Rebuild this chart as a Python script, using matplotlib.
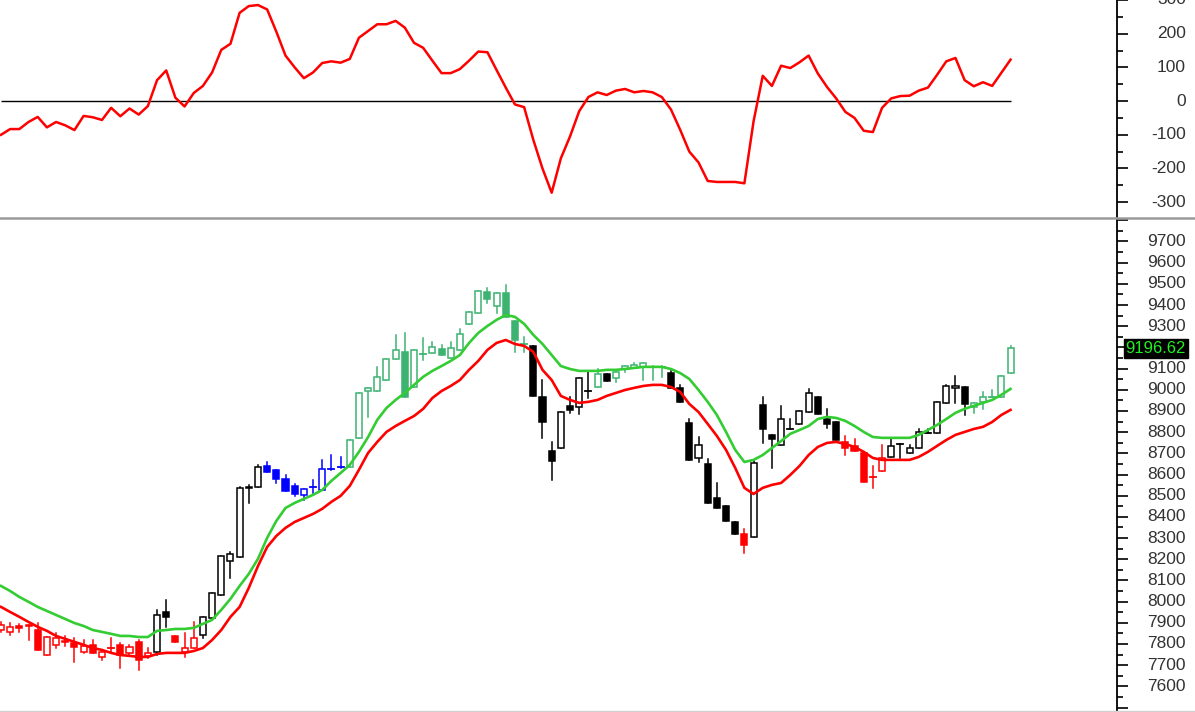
import matplotlib
matplotlib.use("Agg")
import numpy as np
import matplotlib.pyplot as plt
from matplotlib.patches import Rectangle
from matplotlib.lines import Line2D

plt.rcParams["font.family"] = ["Liberation Sans", "DejaVu Sans"]

# ── data ──────────────────────────────────────────────────────────────────────

osc = [-100, -83, -83, -62, -47, -78, -62, -72, -86, -44,
       -48, -56, -20, -45, -22, -40, -15, 62, 91, 10,
       -16, 24, 45, 85, 152, 170, 262, 282, 285, 272,
       206, 135, 100, 68, 85, 113, 118, 114, 125, 188,
       208, 228, 228, 238, 218, 173, 158, 120, 83, 83,
       95, 120, 147, 145, 92, 40, -10, -18, -115, -200,
       -272, -170, -105, -30, 12, 26, 18, 31, 36, 26,
       30, 26, 12, -25, -85, -150, -182, -237, -240, -240,
       -240, -244, -60, 75, 45, 105, 98, 115, 135, 82,
       42, 8, -32, -50, -88, -92, -20, 8, 15, 16,
       31, 40, 78, 118, 128, 62, 44, 56, 45, 84, 123]

ma_upper = [8074, 8050, 8022, 7999, 7975, 7956, 7937, 7918, 7899, 7885,
            7866, 7857, 7848, 7838, 7838, 7833, 7833, 7862, 7866, 7871,
            7871, 7876, 7895, 7914, 7961, 8013, 8074, 8131, 8202, 8301,
            8381, 8442, 8466, 8485, 8504, 8527, 8570, 8607, 8645, 8707,
            8777, 8858, 8914, 8952, 8985, 9023, 9061, 9089, 9112, 9136,
            9164, 9221, 9268, 9301, 9330, 9353, 9344, 9311, 9259, 9216,
            9164, 9112, 9098, 9089, 9089, 9089, 9094, 9094, 9098, 9103,
            9108, 9108, 9108, 9098, 9079, 9051, 8999, 8943, 8881, 8801,
            8716, 8659, 8669, 8692, 8725, 8758, 8792, 8810, 8829, 8862,
            8872, 8867, 8853, 8829, 8801, 8777, 8773, 8773, 8773, 8773,
            8787, 8810, 8834, 8862, 8891, 8910, 8924, 8938, 8952, 8976, 9004]

ma_lower = [7975, 7951, 7928, 7904, 7881, 7862, 7838, 7824, 7810, 7796,
            7781, 7772, 7758, 7748, 7744, 7739, 7739, 7753, 7758, 7758,
            7758, 7767, 7781, 7819, 7866, 7928, 7975, 8065, 8168, 8258,
            8310, 8348, 8376, 8395, 8414, 8438, 8471, 8499, 8546, 8622,
            8702, 8754, 8801, 8829, 8853, 8876, 8910, 8961, 8994, 9018,
            9046, 9094, 9136, 9188, 9221, 9235, 9216, 9207, 9179, 9094,
            9046, 8971, 8952, 8938, 8943, 8952, 8971, 8985, 8999, 9009,
            9018, 9023, 9023, 9013, 8990, 8933, 8895, 8839, 8782, 8716,
            8631, 8537, 8508, 8537, 8551, 8560, 8598, 8640, 8692, 8730,
            8749, 8754, 8744, 8730, 8707, 8678, 8669, 8669, 8669, 8669,
            8683, 8707, 8735, 8763, 8787, 8801, 8815, 8825, 8848, 8881, 8905]

opens = [7866, 7857, 7885, 7890, 7866, 7748, 7796, 7815, 7805, 7763,
         7796, 7739, 7781, 7796, 7758, 7810, 7744, 7763, 7951, 7838,
         7763, 7781, 7843, 7923, 8032, 8192, 8211, 8536, 8541, 8640,
         8622, 8579, 8546, 8504, 8539, 8527, 8624, 8633, 8636, 8773,
         8994, 8994, 9046, 9146, 9179, 9013, 9166, 9174, 9193, 9150,
         9188, 9311, 9363, 9462, 9396, 9457, 9325, 9217, 9207, 8966,
         8711, 8725, 8924, 8919, 8993, 9013, 9075, 9056, 9098, 9103,
         9108, 9107, 9107, 9079, 9009, 8843, 8678, 8650, 8490, 8452,
         8376, 8320, 8305, 8928, 8787, 8740, 8814, 8839, 8895, 8966,
         8862, 8848, 8754, 8735, 8702, 8589, 8617, 8683, 8744, 8702,
         8725, 8795, 8796, 8938, 9009, 9013, 8919, 8943, 8965, 8966, 9079]

highs = [7904, 7899, 7895, 7890, 7899, 7833, 7852, 7838, 7829, 7819,
         7819, 7772, 7829, 7805, 7796, 7819, 7781, 7961, 8008, 7838,
         7852, 7904, 7928, 8041, 8216, 8235, 8540, 8551, 8645, 8659,
         8622, 8598, 8556, 8532, 8574, 8669, 8692, 8683, 8763, 8985,
         9009, 9108, 9146, 9259, 9268, 9188, 9245, 9226, 9212, 9226,
         9287, 9367, 9466, 9481, 9457, 9495, 9325, 9249, 9207, 9046,
         8754, 8895, 8966, 9056, 9084, 9098, 9075, 9084, 9112, 9127,
         9127, 9113, 9110, 9089, 9023, 8862, 8777, 8674, 8560, 8452,
         8376, 8343, 8669, 8966, 8787, 8924, 8862, 8900, 9004, 8966,
         8910, 8848, 8782, 8768, 8702, 8641, 8740, 8773, 8746, 8740,
         8815, 8815, 8943, 9023, 9065, 9013, 8938, 8990, 8999, 9065, 9206]

lows = [7857, 7843, 7857, 7819, 7770, 7748, 7781, 7791, 7715, 7758,
        7758, 7725, 7763, 7687, 7748, 7678, 7734, 7748, 7881, 7810,
        7739, 7781, 7829, 7923, 8032, 8112, 8211, 8466, 8541, 8612,
        8560, 8522, 8499, 8480, 8513, 8527, 8622, 8631, 8636, 8773,
        8872, 8994, 9046, 9146, 8966, 9013, 9141, 9174, 9164, 9150,
        9188, 9311, 9363, 9410, 9363, 9344, 9179, 9179, 8971, 8773,
        8574, 8725, 8891, 8886, 8961, 9013, 9042, 9037, 9084, 9103,
        9046, 9046, 9061, 9009, 8943, 8669, 8659, 8466, 8442, 8381,
        8320, 8230, 8305, 8749, 8631, 8740, 8814, 8839, 8895, 8886,
        8820, 8763, 8692, 8711, 8565, 8537, 8617, 8683, 8678, 8702,
        8725, 8795, 8796, 8938, 8938, 8881, 8891, 8910, 8965, 8966, 9079]

closes = [7890, 7881, 7876, 7884, 7772, 7833, 7829, 7810, 7786, 7791,
          7758, 7763, 7783, 7748, 7786, 7725, 7758, 7937, 7928, 7810,
          7781, 7829, 7928, 8041, 8216, 8225, 8537, 8541, 8636, 8612,
          8579, 8522, 8508, 8532, 8541, 8626, 8626, 8636, 8763, 8985,
          9009, 9061, 9146, 9188, 8966, 9188, 9168, 9202, 9164, 9197,
          9264, 9367, 9466, 9429, 9457, 9344, 9235, 9216, 8971, 8848,
          8664, 8895, 8905, 9056, 8995, 9075, 9042, 9084, 9112, 9117,
          9127, 9108, 9108, 9009, 8943, 8669, 8740, 8466, 8442, 8381,
          8320, 8268, 8655, 8815, 8768, 8862, 8815, 8900, 8985, 8886,
          8839, 8763, 8725, 8711, 8565, 8587, 8678, 8735, 8746, 8725,
          8801, 8796, 8943, 9018, 9018, 8933, 8938, 8966, 8966, 9065, 9196.62]

# candle colour group per bar: r = below band, k = neutral, b = pullback, g = above band
groups = ("rrrrrrrrrr" "rrrrrrrkkr"      # 0-19
          "rrkkkkkkkb" "bbbbbbbbgg"      # 20-39
          "gggggggggg" "ggggggggkk"      # 40-59
          "kkkkkgkggg" "gggkkkkkkk"      # 60-79
          "krkkkkkkkk" "kkrrrrrkkk"      # 80-99
          "kkkkkkggggg")                 # 100-110

osc_ticks = [-300, -200, -100, 0, 100, 200, 300]
price_ticks = list(range(7600, 9800, 100))
last_close = closes[-1]

# ── styling ───────────────────────────────────────────────────────────────────

W, H = 1195, 712
AX_W = 1117
CANDLE_COL = {"r": "#ff0000", "k": "#000000", "b": "#0000ff", "g": "#3cb371"}
TXT = "#333333"
FS = 12.5

fig = plt.figure(figsize=(W / 100, H / 100), dpi=100)
fig.patch.set_facecolor("white")

ax_osc = fig.add_axes([0, 1 - 217 / H, AX_W / W, 217 / H])
ax_px = fig.add_axes([0, 0, AX_W / W, 493 / H])

n = len(closes)
xs = np.arange(n)
x_left, x_right = -0.11, 121.6

for ax in (ax_osc, ax_px):
    ax.set_xlim(x_left, x_right)
    for s in ("top", "left", "bottom"):
        ax.spines[s].set_visible(False)
    ax.spines["right"].set_linewidth(1.3)
    ax.set_xticks([])
    ax.yaxis.tick_right()
    ax.tick_params(axis="y", which="major", length=8, width=1.2, labelright=False)
    ax.tick_params(axis="y", which="minor", length=4.5, width=1.2)
    ax.patch.set_alpha(0)

# ── oscillator panel ──────────────────────────────────────────────────────────

ax_osc.set_ylim(-344, 294)
ax_osc.plot([0, n - 1], [0, 0], color="black", lw=1.0, solid_capstyle="butt")
ax_osc.plot(xs, osc, color="#ff0000", lw=1.8, solid_joinstyle="round")
ax_osc.set_yticks(osc_ticks)
ax_osc.set_yticks(np.arange(-300, 301, 50), minor=True)
lab_x = 1186 / AX_W
for v in osc_ticks:
    ax_osc.text(lab_x, v, f"{v}", transform=ax_osc.get_yaxis_transform(),
                ha="right", va="center", fontsize=FS, color=TXT, clip_on=False)

# ── price panel ───────────────────────────────────────────────────────────────

ax_px.set_ylim(7479, 9806)
ax_px.set_yticks(list(range(7500, 9900, 100)))
ax_px.set_yticks(np.arange(7500, 9850, 50), minor=True)

body_w = 0.66
for i in range(n):
    o, h, l, c = opens[i], highs[i], lows[i], closes[i]
    col = CANDLE_COL[groups[i]]
    ax_px.add_line(Line2D([i, i], [l, h], color=col, lw=1.1, zorder=2))
    lo, hi = min(o, c), max(o, c)
    if hi - lo < 4:
        ax_px.add_line(Line2D([i - body_w / 2, i + body_w / 2], [c, c],
                              color=col, lw=1.3, zorder=3))
        continue
    face = "white" if c > o else col
    ax_px.add_patch(Rectangle((i - body_w / 2, lo), body_w, hi - lo,
                              facecolor=face, edgecolor=col, lw=1.1, zorder=3))

ax_px.plot(xs, ma_upper, color="#33cc33", lw=1.9, zorder=4)
ax_px.plot(xs, ma_lower, color="#ff0000", lw=1.9, zorder=4)

for v in price_ticks:
    ax_px.text(lab_x, v, f"{v}", transform=ax_px.get_yaxis_transform(),
               ha="right", va="center", fontsize=FS, color=TXT, clip_on=False,
               zorder=5)

# last price tag
ax_px.text(lab_x, last_close, f"{last_close:.2f}", transform=ax_px.get_yaxis_transform(),
           ha="right", va="center", fontsize=FS - 0.5, color="#22ee22", clip_on=False,
           zorder=10,
           bbox=dict(boxstyle="square,pad=0.12", facecolor="black", edgecolor="black"))

# panel divider and bottom edge
fig.add_artist(Line2D([0, 1], [1 - 218 / H, 1 - 218 / H], color="#9a9a9a", lw=1.8,
                      transform=fig.transFigure))
fig.add_artist(Line2D([0, 1], [1 / H, 1 / H], color="#d0d0d0", lw=1.0,
                      transform=fig.transFigure))

fig.savefig("out.png", dpi=100)
